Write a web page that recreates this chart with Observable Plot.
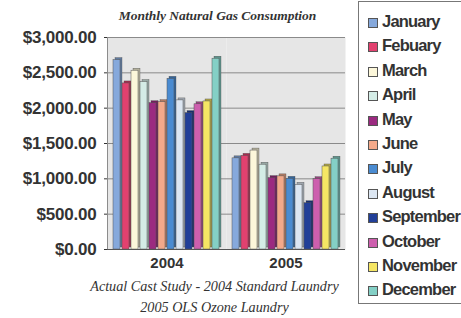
<!DOCTYPE html>
<html>
<head>
<meta charset="utf-8">
<script src="https://cdn.jsdelivr.net/npm/d3@7"></script>
<script src="https://cdn.jsdelivr.net/npm/@observablehq/plot@0.6"></script>
<style>
  html, body { margin: 0; padding: 0; background: #fff; overflow: hidden; }
  #wrap { position: relative; width: 461px; height: 318px; overflow: hidden; background: #fff; }
  #chart { position: absolute; left: 0; top: 0; }
  .title { position: absolute; left: 0; width: 435px; top: 8px; text-align: center;
    font: italic bold 13.5px "Liberation Serif", "DejaVu Serif", serif; color: #333; }
  .cap { position: absolute; left: 0; width: 429px; text-align: center;
    font: italic 14.2px "Liberation Serif", "DejaVu Serif", serif; color: #333; }
  #legend { position: absolute; left: 358px; top: 1px; width: 120px; height: 303px;
    border: 1px solid #777; box-sizing: border-box; background: #fff; }
  .item { position: absolute; left: 0; height: 20px; white-space: nowrap;
    font: bold 16.5px "Liberation Sans", Arial, sans-serif; letter-spacing: -0.8px; color: #333; }
  .sw { position: absolute; left: 9px; top: 5px; width: 8px; height: 8px; border: 1px solid #555; }
  .lab { position: absolute; left: 23px; top: -1px; }
</style>
</head>
<body>
<div id="wrap">
  <div id="chart"></div>
  <div class="title">Monthly Natural Gas Consumption</div>
  <div class="cap" style="top:278px">Actual Cast Study - 2004 Standard Laundry</div>
  <div class="cap" style="top:299px">2005 OLS Ozone Laundry</div>
  <div id="legend"></div>
</div>
<script>
const months = ["January","Febuary","March","April","May","June","July","August","September","October","November","December"];
const years = ["2004","2005"];
const values2004 = [2680,2350,2530,2370,2070,2085,2415,2110,1930,2055,2095,2700];
const values2005 = [1290,1325,1400,1200,1010,1035,1000,915,655,995,1175,1285];
const colors = ["#86a9dc","#e2416f","#fcf7da","#d4ece6","#9b2a80","#f3a98a","#4a8bd1","#dce6f2","#213f98","#cd5fae","#f5e664","#84d0c6"];
const yTicks = [0,500,1000,1500,2000,2500,3000];

const data = [];
years.forEach((yr, i) => {
  const vals = i === 0 ? values2004 : values2005;
  months.forEach((m, j) => data.push({year: yr, month: m, value: vals[j]}));
});

const fmt = d => "$" + d3.format(",.2f")(d);

const chart = Plot.plot({
  width: 461,
  height: 318,
  marginLeft: 106,
  marginRight: 116,
  marginTop: 37,
  marginBottom: 69,
  style: {fontFamily: "'Liberation Sans', Arial, sans-serif", fontSize: "15px", fontWeight: "bold", color: "#333", background: "transparent"},
  fx: {domain: years, padding: 0, label: null, tickSize: 0, tickPadding: 8},
  x: {domain: months, axis: null, paddingInner: 0, paddingOuter: 0.5},
  y: {domain: [0, 3000], ticks: yTicks, tickFormat: fmt, label: null, tickSize: 3, tickPadding: 8, line: true},
  color: {domain: months, range: colors},
  marks: [
    Plot.frame({fill: "#e6e6e6", stroke: null}),
    Plot.gridY(yTicks, {stroke: "#8a8a8a", strokeOpacity: 1, strokeWidth: 1}),
    Plot.barY(data, {fx: "year", x: "month", y: "value", fill: "month", dx: 2, dy: -2, insetRight: 2, stroke: "#666", strokeWidth: 0.4}),
    Plot.barY(data, {fx: "year", x: "month", y: "value", fill: "#000", fillOpacity: 0.28, dx: 2, dy: -2, insetRight: 2}),
    Plot.barY(data, {fx: "year", x: "month", y: "value", fill: "month", insetRight: 2, stroke: "#555", strokeWidth: 0.5}),
    Plot.ruleY([0], {stroke: "#555", strokeWidth: 1.2})
  ]
});
chart.querySelectorAll('[aria-label="y-axis tick label"]').forEach(g => {
  g.setAttribute("font-size", "17px");
  g.style.fontSize = "17px";
  g.setAttribute("letter-spacing", "-0.2");
});
document.getElementById("chart").appendChild(chart);

const legend = document.getElementById("legend");
months.forEach((m, i) => {
  const it = document.createElement("div");
  it.className = "item";
  it.style.top = (11 + i * 24.4) + "px";
  const sw = document.createElement("div");
  sw.className = "sw";
  sw.style.background = colors[i];
  const lab = document.createElement("div");
  lab.className = "lab";
  lab.textContent = m;
  it.appendChild(sw); it.appendChild(lab);
  legend.appendChild(it);
});
</script>
</body>
</html>
